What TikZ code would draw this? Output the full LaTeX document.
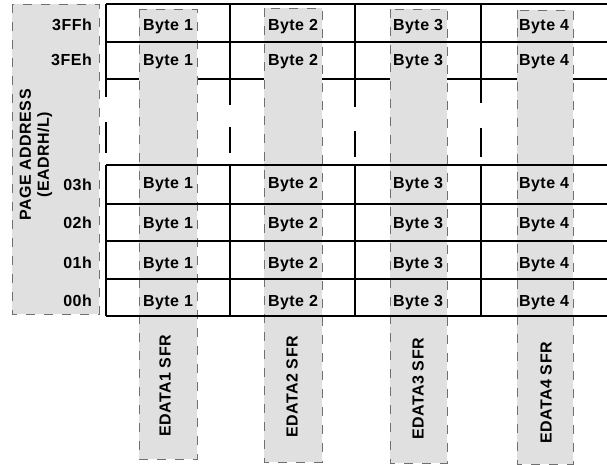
\documentclass[tikz,border=0pt]{standalone}
\usepackage{fontspec}
\setmainfont{Liberation Sans}
\newfontfamily\lblfont[LetterSpace=3]{Liberation Sans}
\definecolor{sfrgray}{HTML}{E0E0E0}
\definecolor{dashgray}{HTML}{707070}

\begin{document}
\begin{tikzpicture}[
    x=1pt, y=-1pt,
    grid/.style={line width=1.3pt},
    sfrbox/.style={fill=sfrgray, draw=dashgray, line width=0.9pt, dash pattern=on 9pt off 9pt},
    lbl/.style={font=\lblfont\fontsize{16}{18}\selectfont\bfseries, inner sep=0pt},
    bytelbl/.style={lbl, anchor=base},
    addrlbl/.style={lbl, anchor=base east},
    sfrlbl/.style={lbl, rotate=90}
]
    \useasboundingbox (0,0) rectangle (607,465);

    % Row line hidden by the SFR columns
    \draw[grid] (106,79) -- (607,79);

    % Page address and SFR columns
    \draw[sfrbox] (12,4) rectangle (99,314);
    \draw[sfrbox] (139,9) rectangle (197,459);
    \draw[sfrbox] (264,8) rectangle (322,462);
    \draw[sfrbox] (390,9) rectangle (447,463);
    \draw[sfrbox] (517,10) rectangle (573,464);

    % Upper rows (3FFh, 3FEh)
    \draw[grid] (106,4) -- (607,4);
    \draw[grid] (106,42) -- (607,42);
    \foreach \vx in {106,230,355,481}
        \draw[grid] (\vx,4) -- (\vx,79);

    % Broken column lines
    \draw[grid] (106,79) -- (106,97) (106,122) -- (106,153);
    \draw[grid] (230,79) -- (230,105) (230,127) -- (230,153);
    \draw[grid] (355,79) -- (355,107) (355,131) -- (355,157);
    \draw[grid] (481,79) -- (481,103) (481,128) -- (481,157);

    % Lower rows (03h .. 00h)
    \foreach \hy in {165,204,241,279,316}
        \draw[grid] (106,\hy) -- (607,\hy);
    \foreach \vx in {106,230,355,481}
        \draw[grid] (\vx,165) -- (\vx,316);

    % Address labels
    \node[lbl, rotate=90, align=center] (pageaddr) at (36,155) {PAGE ADDRESS\\(EADRH/L)};
    \node[addrlbl] (a3ff) at (92,31) {3FFh};
    \node[addrlbl] (a3fe) at (92,66) {3FEh};
    \node[addrlbl] (a03) at (92,190) {03h};
    \node[addrlbl] (a02) at (92,228) {02h};
    \node[addrlbl] (a01) at (92,268) {01h};
    \node[addrlbl] (a00) at (92,306) {00h};

    % Byte labels
    \foreach \col/\cx in {1/168,2/293,3/418,4/544}
        \foreach \row/\by in {1/31,2/66,3/189,4/228,5/268,6/306}
            \node[bytelbl] (byte\col-\row) at (\cx,\by) {Byte \col};

    % SFR labels
    \node[sfrlbl] (edata1) at (165,386) {EDATA1 SFR};
    \node[sfrlbl] (edata2) at (292,387) {EDATA2 SFR};
    \node[sfrlbl] (edata3) at (418,389) {EDATA3 SFR};
    \node[sfrlbl] (edata4) at (546,393) {EDATA4 SFR};
\end{tikzpicture}
\end{document}
